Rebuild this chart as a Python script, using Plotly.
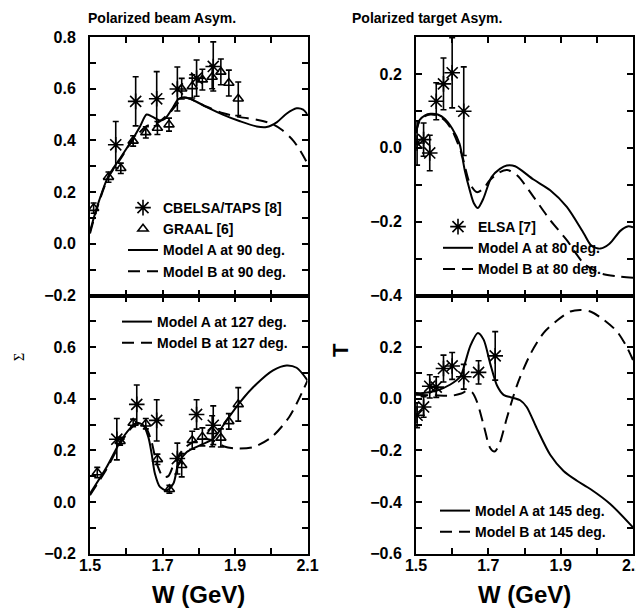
import plotly.graph_objects as go

# ---------------- data ----------------
# Top-left: beam asymmetry at 90 deg
TL_CB_X = [1.571, 1.626, 1.684, 1.741, 1.794, 1.840]
TL_CB_Y = [0.383, 0.551, 0.561, 0.599, 0.641, 0.686]
TL_CB_E = [0.090, 0.095, 0.105, 0.085, 0.070, 0.095]

TL_GR_X = [1.510, 1.551, 1.585, 1.619, 1.654, 1.686, 1.718, 1.753, 1.782, 1.810, 1.837, 1.861, 1.883, 1.909]
TL_GR_Y = [0.138, 0.258, 0.292, 0.398, 0.431, 0.448, 0.461, 0.600, 0.609, 0.635, 0.645, 0.665, 0.622, 0.561]
TL_GR_E = [0.020, 0.020, 0.020, 0.020, 0.022, 0.025, 0.025, 0.040, 0.045, 0.040, 0.045, 0.050, 0.050, 0.065]

TL_A_X = [1.50, 1.52, 1.55, 1.585, 1.62, 1.638, 1.656, 1.67, 1.693, 1.707, 1.725, 1.744, 1.757, 1.776,
          1.822, 1.868, 1.914, 1.96, 1.987, 2.015, 2.042, 2.07, 2.088, 2.10]
TL_A_Y = [0.048, 0.145, 0.26, 0.335, 0.41, 0.454, 0.50, 0.493, 0.477, 0.484, 0.519, 0.56, 0.566, 0.561,
          0.529, 0.499, 0.474, 0.454, 0.452, 0.47, 0.503, 0.524, 0.519, 0.50]
TL_B_X = [1.50, 1.52, 1.55, 1.585, 1.62, 1.656, 1.69, 1.725, 1.757, 1.776, 1.822, 1.868, 1.914, 1.96,
          2.0, 2.03, 2.06, 2.08, 2.10]
TL_B_Y = [0.040, 0.14, 0.255, 0.33, 0.405, 0.455, 0.472, 0.515, 0.565, 0.561, 0.53, 0.505, 0.49, 0.48,
          0.465, 0.44, 0.40, 0.36, 0.31]

# Bottom-left: beam asymmetry at 127 deg
BL_CB_X = [1.574, 1.629, 1.684, 1.741, 1.794, 1.840]
BL_CB_Y = [0.243, 0.378, 0.316, 0.168, 0.339, 0.297]
BL_CB_E = [0.080, 0.075, 0.080, 0.060, 0.057, 0.075]

BL_GR_X = [1.520, 1.583, 1.619, 1.654, 1.686, 1.719, 1.753, 1.782, 1.810, 1.837, 1.861, 1.883, 1.909]
BL_GR_Y = [0.114, 0.235, 0.306, 0.303, 0.165, 0.049, 0.142, 0.239, 0.252, 0.274, 0.248, 0.312, 0.378]
BL_GR_E = [0.020, 0.015, 0.015, 0.020, 0.020, 0.015, 0.045, 0.035, 0.035, 0.060, 0.035, 0.030, 0.065]

BL_A_X = [1.50, 1.546, 1.583, 1.61, 1.629, 1.647, 1.661, 1.670, 1.679, 1.693, 1.712, 1.730, 1.744, 1.767,
          1.803, 1.840, 1.877, 1.914, 1.96, 2.005, 2.042, 2.07, 2.10]
BL_A_Y = [0.032, 0.135, 0.232, 0.284, 0.307, 0.297, 0.251, 0.187, 0.11, 0.058, 0.045, 0.071, 0.149, 0.193,
          0.219, 0.245, 0.316, 0.387, 0.458, 0.51, 0.529, 0.52, 0.471]
BL_B_X = [1.50, 1.546, 1.583, 1.61, 1.629, 1.645, 1.656, 1.670, 1.684, 1.702, 1.716, 1.730, 1.755, 1.776,
          1.81, 1.84, 1.87, 1.905, 1.95, 2.0, 2.05, 2.10]
BL_B_Y = [0.026, 0.128, 0.225, 0.28, 0.305, 0.30, 0.284, 0.232, 0.149, 0.097, 0.10, 0.142, 0.20, 0.225,
          0.245, 0.238, 0.215, 0.207, 0.212, 0.25, 0.33, 0.47]

# Top-right: target asymmetry at 80 deg
TR_EL_X = [1.503, 1.521, 1.538, 1.556, 1.576, 1.600, 1.632]
TR_EL_Y = [0.013, 0.022, -0.014, 0.126, 0.173, 0.203, 0.099]
TR_EL_E = [0.060, 0.045, 0.048, 0.050, 0.070, 0.095, 0.120]

TR_A_X = [1.50, 1.51, 1.525, 1.54, 1.56, 1.58, 1.60, 1.62, 1.635, 1.649, 1.660, 1.671, 1.686, 1.709,
          1.732, 1.751, 1.774, 1.825, 1.871, 1.917, 1.964, 1.985, 2.01, 2.035, 2.065, 2.085, 2.10]
TR_A_Y = [0.04, 0.075, 0.088, 0.092, 0.09, 0.078, 0.052, 0.012, -0.062, -0.116, -0.15, -0.163, -0.138, -0.079,
          -0.057, -0.048, -0.05, -0.086, -0.115, -0.16, -0.232, -0.265, -0.273, -0.26, -0.225, -0.213, -0.215]
TR_B_X = [1.50, 1.51, 1.525, 1.54, 1.56, 1.58, 1.60, 1.626, 1.649, 1.668, 1.686, 1.704, 1.732, 1.752,
          1.78, 1.825, 1.871, 1.917, 1.964, 2.01, 2.056, 2.10]
TR_B_Y = [0.04, 0.073, 0.086, 0.09, 0.087, 0.074, 0.047, -0.016, -0.097, -0.12, -0.111, -0.088, -0.066, -0.06,
          -0.075, -0.133, -0.196, -0.25, -0.313, -0.34, -0.348, -0.352]

# Bottom-right: target asymmetry at 145 deg
BR_EL_X = [1.503, 1.521, 1.538, 1.556, 1.576, 1.600, 1.632, 1.673, 1.719]
BR_EL_Y = [-0.064, -0.032, 0.048, 0.045, 0.117, 0.127, 0.085, 0.102, 0.166]
BR_EL_E = [0.048, 0.040, 0.045, 0.040, 0.052, 0.052, 0.048, 0.045, 0.094]

BR_A_X = [1.50, 1.52, 1.558, 1.595, 1.623, 1.636, 1.650, 1.671, 1.687, 1.705, 1.724, 1.742, 1.770, 1.788,
          1.806, 1.834, 1.871, 1.908, 1.945, 1.982, 2.037, 2.10]
BR_A_Y = [0.022, 0.022, 0.032, 0.055, 0.087, 0.14, 0.204, 0.255, 0.229, 0.137, 0.051, 0.015, 0.003, -0.006,
          -0.032, -0.115, -0.217, -0.28, -0.318, -0.35, -0.408, -0.499]
BR_B_X = [1.50, 1.55, 1.60, 1.625, 1.641, 1.655, 1.669, 1.687, 1.705, 1.717, 1.730, 1.751, 1.779, 1.816,
          1.853, 1.89, 1.927, 1.954, 1.982, 2.019, 2.056, 2.083, 2.10]
BR_B_Y = [0.015, 0.013, 0.012, 0.02, 0.03, 0.025, -0.013, -0.102, -0.191, -0.205, -0.178, -0.076, 0.051, 0.172,
          0.255, 0.303, 0.338, 0.344, 0.338, 0.306, 0.26, 0.2, 0.15]

# ticks
X_TICKS = [1.5, 1.6, 1.7, 1.8, 1.9, 2.0, 2.1]
X_LABELS = ["1.5", "", "1.7", "", "1.9", "", "2.1"]
SIG_TICKS = [-0.2, -0.1, 0.0, 0.1, 0.2, 0.3, 0.4, 0.5, 0.6, 0.7, 0.8]
SIG_LABELS_TOP = ["\u22120.2", "", "0.0", "", "0.2", "", "0.4", "", "0.6", "", "0.8"]
SIG_LABELS_BOT = ["\u22120.2", "", "0.0", "", "0.2", "", "0.4", "", "0.6", "", ""]
TT_TICKS = [-0.4, -0.3, -0.2, -0.1, 0.0, 0.1, 0.2, 0.3]
TT_LABELS = ["\u22120.4", "", "\u22120.2", "", "0.0", "", "0.2", ""]
TB_TICKS = [-0.6, -0.5, -0.4, -0.3, -0.2, -0.1, 0.0, 0.1, 0.2, 0.3, 0.4]
TB_LABELS = ["\u22120.6", "", "\u22120.4", "", "\u22120.2", "", "0.0", "", "0.2", "", ""]

# ---------------- figure ----------------
W, H = 644, 612
OFF = 8  # page offset of the figure inside the browser window
FONT = "Liberation Sans, Arial, sans-serif"
DASH = "12px,7px"


def px(v):
    return (v - OFF) / W


def py(v):
    return 1 - (v - OFF) / H


fig = go.Figure()


def pts(x, y, e, name, sym, size, xa, ya, leg):
    fig.add_trace(go.Scatter(
        x=x, y=y, mode="markers", name=name, legend=leg,
        xaxis=xa, yaxis=ya,
        marker=dict(symbol=sym, size=size, color="black", line=dict(color="black", width=1.6)),
        error_y=dict(type="data", array=e, visible=True, color="black", thickness=1.6, width=3),
    ))


def curve(x, y, name, dash, xa, ya, leg):
    fig.add_trace(go.Scatter(
        x=x, y=y, mode="lines", name=name, legend=leg,
        xaxis=xa, yaxis=ya, line=dict(color="black", width=2, dash=dash, shape="spline", smoothing=0.8),
    ))


# top-left (x2, y2)
pts(TL_CB_X, TL_CB_Y, TL_CB_E, "CBELSA/TAPS [8]", "asterisk-open", 13, "x2", "y2", "legend")
pts(TL_GR_X, TL_GR_Y, TL_GR_E, "GRAAL [6]", "triangle-up-open", 9, "x2", "y2", "legend")
curve(TL_A_X, TL_A_Y, "Model A at 90 deg.", "solid", "x2", "y2", "legend")
curve(TL_B_X, TL_B_Y, "Model B at 90 deg.", DASH, "x2", "y2", "legend")

# bottom-left (x, y)
pts(BL_CB_X, BL_CB_Y, BL_CB_E, "CBELSA/TAPS [8]", "asterisk-open", 13, "x", "y", "legend2")
pts(BL_GR_X, BL_GR_Y, BL_GR_E, "GRAAL [6]", "triangle-up-open", 9, "x", "y", "legend2")
curve(BL_A_X, BL_A_Y, "Model A at 127 deg.", "solid", "x", "y", "legend2")
curve(BL_B_X, BL_B_Y, "Model B at 127 deg.", DASH, "x", "y", "legend2")
fig.data[4].showlegend = False
fig.data[5].showlegend = False

# top-right (x4, y4)
pts(TR_EL_X, TR_EL_Y, TR_EL_E, "ELSA [7]", "asterisk-open", 13, "x4", "y4", "legend3")
curve(TR_A_X, TR_A_Y, "Model A at 80 deg.", "solid", "x4", "y4", "legend3")
curve(TR_B_X, TR_B_Y, "Model B at 80 deg.", DASH, "x4", "y4", "legend3")

# bottom-right (x3, y3)
pts(BR_EL_X, BR_EL_Y, BR_EL_E, "ELSA [7]", "asterisk-open", 13, "x3", "y3", "legend4")
curve(BR_A_X, BR_A_Y, "Model A at 145 deg.", "solid", "x3", "y3", "legend4")
curve(BR_B_X, BR_B_Y, "Model B at 145 deg.", DASH, "x3", "y3", "legend4")
fig.data[11].showlegend = False

# domains (page pixels of the reference, corrected for the page offset)
LX = [px(90), px(307.5)]
RX = [px(416), px(633)]
TOPY = [py(295.5), py(37)]
BOTY = [py(553.5), py(295.5)]

tickfont = dict(family=FONT, size=16, color="black", weight="bold")
common = dict(showgrid=False, zeroline=False, showline=True, linecolor="black", linewidth=2,
              ticks="inside", ticklen=6, tickwidth=1.5, tickcolor="black", mirror="ticks",
              tickfont=tickfont, automargin=False)
xcommon = dict(range=[1.5, 2.1], tickmode="array", tickvals=X_TICKS, ticklabelstandoff=-4, **common)
ycommon = dict(tickmode="array", ticklabelstandoff=9, **common)

fig.update_layout(
    width=W, height=H, autosize=False,
    margin=dict(l=0, r=0, t=0, b=0, pad=0, autoexpand=False),
    paper_bgcolor="white", plot_bgcolor="white",
    xaxis=dict(domain=LX, anchor="y", ticktext=X_LABELS, **xcommon),
    yaxis=dict(domain=BOTY, anchor="x", range=[-0.2, 0.8], tickvals=SIG_TICKS,
               ticktext=SIG_LABELS_BOT, **ycommon),
    xaxis2=dict(domain=LX, anchor="y2", showticklabels=False, **xcommon),
    yaxis2=dict(domain=TOPY, anchor="x2", range=[-0.2, 0.8], tickvals=SIG_TICKS,
                ticktext=SIG_LABELS_TOP, **ycommon),
    xaxis3=dict(domain=RX, anchor="y3", ticktext=X_LABELS, **xcommon),
    yaxis3=dict(domain=BOTY, anchor="x3", range=[-0.6, 0.4], tickvals=TB_TICKS,
                ticktext=TB_LABELS, **ycommon),
    xaxis4=dict(domain=RX, anchor="y4", showticklabels=False, **xcommon),
    yaxis4=dict(domain=TOPY, anchor="x4", range=[-0.4, 0.3], tickvals=TT_TICKS,
                ticktext=TT_LABELS, **ycommon),
)

legfont = dict(family=FONT, size=14, color="black", weight="bold")
legcommon = dict(font=legfont, bgcolor="rgba(0,0,0,0)", borderwidth=0, xanchor="left", yanchor="top",
                 tracegroupgap=0, itemwidth=30, traceorder="normal")
fig.update_layout(
    legend=dict(x=115 / W, y=1 - 184 / H, **legcommon),
    legend2=dict(x=109 / W, y=1 - 298 / H, **legcommon),
    legend3=dict(x=430 / W, y=1 - 203 / H, **legcommon),
    legend4=dict(x=427 / W, y=1 - 487 / H, **legcommon),
)

annots = [
    dict(text="Polarized beam Asym.", x=px(162), y=py(18), font=dict(family=FONT, size=14, color="black", weight="bold")),
    dict(text="Polarized target Asym.", x=px(427), y=py(18), font=dict(family=FONT, size=14, color="black", weight="bold")),
    dict(text="W (GeV)", x=px(198), y=py(594), font=dict(family=FONT, size=24, color="black", weight="bold")),
    dict(text="W (GeV)", x=px(524), y=py(594), font=dict(family=FONT, size=24, color="black", weight="bold")),
    dict(text="\u03a3", x=px(19), y=py(357), textangle=-90, font=dict(family="Liberation Serif, serif", size=14, color="black")),
    dict(text="T", x=px(340), y=py(350), textangle=-90, font=dict(family=FONT, size=22, color="black", weight="bold")),
]
for a in annots:
    fig.add_annotation(xref="paper", yref="paper", showarrow=False, xanchor="center", yanchor="middle", **a)

fig.write_html("out.html")
